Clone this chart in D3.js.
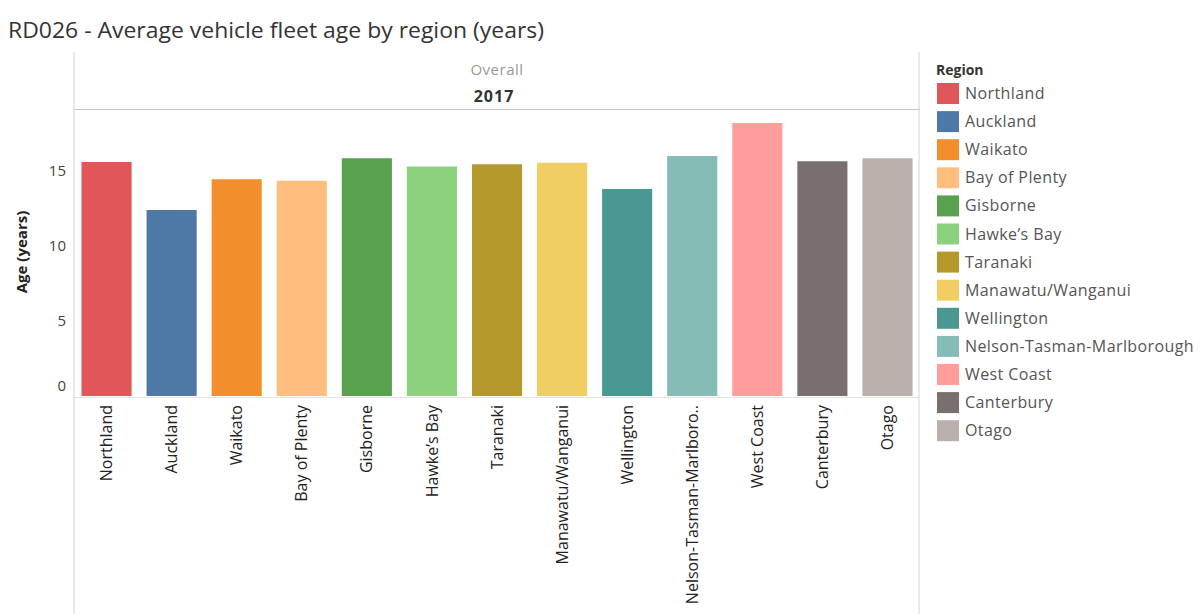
<!DOCTYPE html>
<html>
<head>
<meta charset="utf-8">
<script src="https://cdn.jsdelivr.net/npm/d3@7"></script>
<style>
  html, body { margin: 0; padding: 0; background: #fff; }
  svg { display: block; font-family: "Open Sans", "Noto Sans", sans-serif; }
</style>
</head>
<body>
<svg id="chart" width="1200" height="614"></svg>
<script>
const regions = ["Northland","Auckland","Waikato","Bay of Plenty","Gisborne","Hawke's Bay","Taranaki","Manawatu/Wanganui","Wellington","Nelson-Tasman-Marlborough","West Coast","Canterbury","Otago"];
const axisLabels = ["Northland","Auckland","Waikato","Bay of Plenty","Gisborne","Hawke’s Bay","Taranaki","Manawatu/Wanganui","Wellington","Nelson-Tasman-Marlboro..","West Coast","Canterbury","Otago"];
const legendLabels = ["Northland","Auckland","Waikato","Bay of Plenty","Gisborne","Hawke’s Bay","Taranaki","Manawatu/Wanganui","Wellington","Nelson-Tasman-Marlborough","West Coast","Canterbury","Otago"];
const ages = [15.6, 12.4, 14.45, 14.35, 15.85, 15.3, 15.45, 15.55, 13.8, 16.0, 18.2, 15.65, 15.85];
const colors = ["#e15759","#4e79a7","#f28e2b","#ffbe7d","#59a14f","#8cd17d","#b6992d","#f1ce63","#499894","#86bcb6","#ff9d9a","#79706e","#bab0ac"];
const yTicks = [0, 5, 10, 15];
const title = "RD026 - Average vehicle fleet age by region (years)";

const svg = d3.select("#chart");
const paneLeft = 74, paneRight = 920, base = 396;

const x = d3.scaleBand().domain(regions).range([paneLeft, paneRight]).paddingInner(0.23).paddingOuter(0.115);
const y = d3.scaleLinear().domain([0, 15]).range([base, base - 225]);
const color = d3.scaleOrdinal().domain(regions).range(colors);

// title
svg.append("text").attr("x", 8).attr("y", 38)
  .attr("font-size", 21).attr("fill", "#333")
  .attr("textLength", 536).attr("lengthAdjust", "spacingAndGlyphs").text(title);

// pane borders
svg.append("line").attr("x1", paneLeft).attr("x2", paneLeft).attr("y1", 52).attr("y2", 614).attr("stroke", "#d4d4d4");
svg.append("line").attr("x1", paneRight - 1).attr("x2", paneRight - 1).attr("y1", 52).attr("y2", 614).attr("stroke", "#d4d4d4");
svg.append("line").attr("x1", paneLeft).attr("x2", paneRight).attr("y1", 109.5).attr("y2", 109.5).attr("stroke", "#c8c8c8");

// header
svg.append("text").attr("x", 497).attr("y", 75).attr("text-anchor", "middle")
  .attr("font-size", 15).attr("fill", "#999").attr("letter-spacing", "0.5").text("Overall");
svg.append("text").attr("x", 494).attr("y", 102).attr("text-anchor", "middle")
  .attr("font-size", 16).attr("font-weight", "bold").attr("fill", "#333").attr("letter-spacing", "1").text("2017");

// bars
svg.append("g").selectAll("rect").data(regions).join("rect")
  .attr("x", d => x(d)).attr("width", x.bandwidth())
  .attr("y", (d, i) => y(ages[i])).attr("height", (d, i) => y(0) - y(ages[i]))
  .attr("fill", d => color(d));

// baseline
svg.append("line").attr("x1", paneLeft).attr("x2", paneRight).attr("y1", base + 1.5).attr("y2", base + 1.5).attr("stroke", "#e2e2e2");

// y axis
const yAxis = svg.append("g").attr("transform", `translate(${paneLeft},0)`)
  .call(d3.axisLeft(y).tickValues(yTicks).tickSize(0).tickPadding(8));
yAxis.select(".domain").remove();
yAxis.selectAll("text").attr("font-size", 15).attr("fill", "#444")
  .attr("font-family", "Open Sans, sans-serif")
  .attr("dy", d => d === 0 ? "-0.35em" : "0.32em");

svg.append("text").attr("transform", "translate(27,252) rotate(-90)")
  .attr("text-anchor", "middle").attr("font-size", 15).attr("font-weight", "bold")
  .attr("fill", "#222").text("Age (years)");

// x axis
const xAxis = svg.append("g").attr("transform", `translate(0,${base})`)
  .call(d3.axisBottom(x).tickSize(0).tickFormat((d, i) => axisLabels[i]));
xAxis.select(".domain").remove();
xAxis.selectAll("text")
  .attr("font-size", 16).attr("fill", "#222").attr("font-family", "Open Sans, sans-serif")
  .attr("text-anchor", "end")
  .attr("transform", "rotate(-90)")
  .attr("x", -9).attr("y", 0).attr("dy", "0.35em");

// legend
const lg = svg.append("g");
lg.append("text").attr("x", 936).attr("y", 75).attr("font-size", 14).attr("font-weight", "bold")
  .attr("fill", "#333").text("Region");
const rows = lg.selectAll("g.row").data(regions).join("g").attr("class", "row")
  .attr("transform", (d, i) => `translate(937,${83 + i * 28.1})`);
rows.append("rect").attr("width", 22).attr("height", 21).attr("fill", d => color(d));
rows.append("text").attr("x", 28).attr("y", 16).attr("font-size", 16).attr("fill", "#555")
  .attr("letter-spacing", "0.4")
  .text((d, i) => legendLabels[i]);
</script>
</body>
</html>
